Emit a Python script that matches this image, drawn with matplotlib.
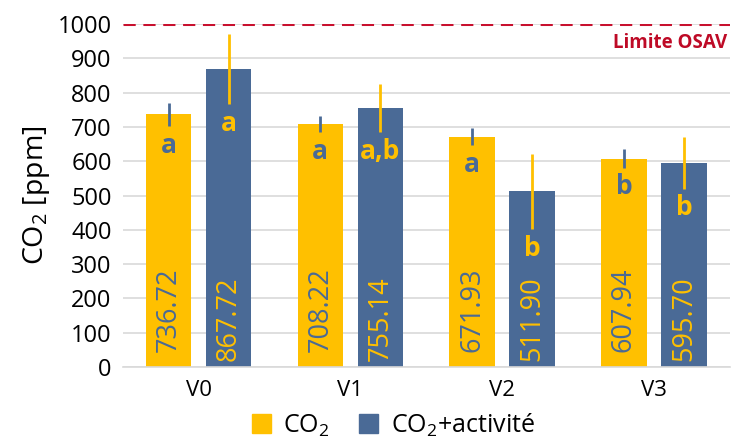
import matplotlib
matplotlib.use("Agg")
import matplotlib.pyplot as plt
import numpy as np
from matplotlib.patches import Patch

plt.rcParams['font.family'] = ['Open Sans', 'DejaVu Sans']
plt.rcParams['mathtext.fontset'] = 'custom'
plt.rcParams['mathtext.rm'] = 'Open Sans'
plt.rcParams['mathtext.it'] = 'Open Sans'

categories = ["V0", "V1", "V2", "V3"]
co2 = [736.72, 708.22, 671.93, 607.94]
co2_act = [867.72, 755.14, 511.90, 595.70]
co2_err = [34, 24, 25, 27]
co2_act_err = [102, 70, 110, 76]
co2_letters = ["a", "a", "a", "b"]
co2_act_letters = ["a", "a,b", "b", "b"]
limit = 1000
limit_label = "Limite OSAV"

yellow = "#FFC000"
blue = "#4A6A96"
red = "#C8102E"

fig = plt.figure(figsize=(7.35, 4.37), dpi=100)
ax = fig.add_axes([0.167, 0.160, 0.826, 0.785])

x = np.arange(len(categories))
w = 0.30
off = 0.198

ax.bar(x - off, co2, w, color=yellow, zorder=2)
ax.bar(x + off, co2_act, w, color=blue, zorder=2)
ax.errorbar(x - off, co2, yerr=co2_err, fmt='none', ecolor=blue, elinewidth=2, capsize=0, zorder=3)
ax.errorbar(x + off, co2_act, yerr=co2_act_err, fmt='none', ecolor=yellow, elinewidth=2, capsize=0, zorder=3)

for i in range(len(categories)):
    ax.text(x[i] - off, 44, f"{co2[i]:.2f}", rotation=90, ha='center', va='bottom',
            color=blue, fontsize=19.5, zorder=4)
    ax.text(x[i] + off, 18, f"{co2_act[i]:.2f}", rotation=90, ha='center', va='bottom',
            color=yellow, fontsize=19.5, zorder=4)
    ax.annotate(co2_letters[i], (x[i] - off, co2[i] - co2_err[i]), xytext=(0, -4),
                textcoords='offset points', ha='center', va='top', color=blue,
                fontsize=19, fontweight='bold', zorder=4)
    ax.annotate(co2_act_letters[i], (x[i] + off, co2_act[i] - co2_act_err[i]), xytext=(0, -4),
                textcoords='offset points', ha='center', va='top', color=yellow,
                fontsize=19, fontweight='bold', zorder=4)

ax.axhline(limit, color=red, linestyle=(0, (4, 2.5)), linewidth=2.2, zorder=3)
ax.text(3.48, limit - 25, limit_label, ha='right', va='top', color="#BE0A26",
        fontsize=13.5, fontweight='bold')

ax.set_xlim(-0.5, 3.5)
ax.set_ylim(0, 1000)
ax.set_yticks(np.arange(0, 1001, 100))
ax.set_xticks(x)
ax.set_xticklabels(categories)
ax.tick_params(axis='y', labelsize=17, length=0, pad=8)
ax.tick_params(axis='x', labelsize=16, length=0, pad=9)
ax.yaxis.grid(True, color="#D9D9D9", linewidth=1.2, zorder=0)
ax.set_axisbelow(True)
for s in ['left', 'right', 'top']:
    ax.spines[s].set_visible(False)
ax.spines['bottom'].set_color("#D9D9D9")
ax.spines['bottom'].set_linewidth(1.2)

ax.set_ylabel("CO$_2$ [ppm]", fontsize=20.5, labelpad=4)

handles = [Patch(color=yellow, label="CO$_2$"), Patch(color=blue, label="CO$_2$+activité")]
fig.legend(handles=handles, loc='lower center', bbox_to_anchor=(0.535, -0.055), ncol=2,
           frameon=False, fontsize=18, handlelength=0.75, handleheight=0.75,
           columnspacing=1.2, handletextpad=0.5)

fig.savefig("out.png", dpi=100)
